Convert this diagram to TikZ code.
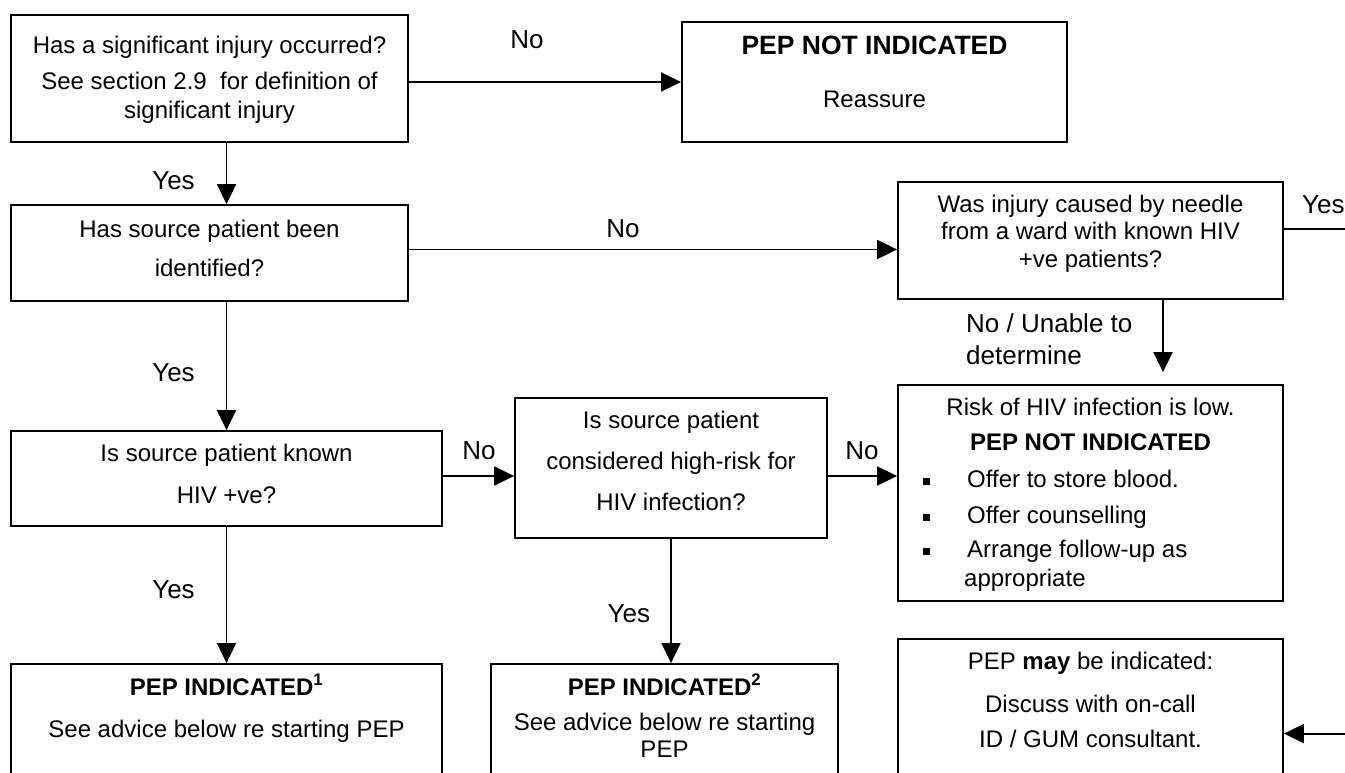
\documentclass[tikz,border=0pt]{standalone}
\usepackage{fontspec}
\setmainfont{Liberation Sans}
\usetikzlibrary{arrows.meta}

\tikzstyle{box}=[draw, line width=1.8pt, inner sep=0pt]
\tikzstyle{txt}=[inner sep=0pt, font=\fontsize{24}{28}\selectfont, text height=17pt, text depth=5pt]
\tikzstyle{lbl}=[inner sep=0pt, font=\fontsize{26}{30}\selectfont, text height=18.5pt, text depth=5.5pt]
\tikzstyle{arr}=[line width=1.8pt, -{Triangle[length=20pt,width=19pt]}]
\tikzstyle{plain}=[line width=1.8pt]

\begin{document}
\begin{tikzpicture}[x=1pt, y=-1pt]
	\useasboundingbox (0,0) rectangle (1345,772);
	\clip (0,0) rectangle (1345,772);

	% Boxes
	\node[box, minimum width=397, minimum height=127] (A) at (209.5,78.5) {};
	\node[box, minimum width=385, minimum height=120] (B) at (874.5,82) {};
	\node[box, minimum width=397, minimum height=96] (C) at (209.5,253) {};
	\node[box, minimum width=385, minimum height=117] (D) at (1090.5,240.5) {};
	\node[box, minimum width=385, minimum height=216] (E) at (1090.5,493) {};
	\node[box, minimum width=431, minimum height=95] (F) at (226.5,478.5) {};
	\node[box, minimum width=312, minimum height=140] (G) at (671,468) {};
	\node[box, minimum width=431, minimum height=136] (H) at (226.5,732) {};
	\node[box, minimum width=347, minimum height=136] (I) at (664.5,732) {};
	\node[box, minimum width=385, minimum height=161] (J) at (1090.5,719.5) {};

	% Box texts
	\node[txt] (A1) at (209.5,47.8) {Has a significant injury occurred?};
	\node[txt] (A2) at (209.5,83.7) {See section 2.9~ for definition of};
	\node[txt] (A3) at (209.5,112.3) {significant injury};

	\node[txt, font=\fontsize{26.5}{30}\selectfont\bfseries] (B1) at (874.5,48) {PEP NOT INDICATED};
	\node[txt] (B2) at (874.5,101) {Reassure};

	\node[txt] (C1) at (209.5,231.4) {Has source patient been};
	\node[txt] (C2) at (209.5,270.8) {identified?};

	\node[txt] (D1) at (1090.5,206.8) {Was injury caused by needle};
	\node[txt] (D2) at (1090.5,233.9) {from a ward with known HIV};
	\node[txt] (D3) at (1090.5,261) {+ve patients?};

	\node[txt] (E1) at (1090.5,409.6) {Risk of HIV infection is low.};
	\node[txt, font=\fontsize{24}{28}\selectfont\bfseries] (E2) at (1090.5,444.6) {PEP NOT INDICATED};
	\node[txt, anchor=west] (E3) at (967,481) {Offer to store blood.};
	\node[txt, anchor=west] (E4) at (967,517) {Offer counselling};
	\node[txt, anchor=west] (E5) at (967,551.5) {Arrange follow-up as};
	\node[txt, anchor=west] (E6) at (964,580) {appropriate};
	\foreach \y in {481,517,551.5} {
		\fill (922.5,\y-3.5) rectangle ++(7,7);
	}

	\node[txt] (F1) at (226.5,455.4) {Is source patient known};
	\node[txt] (F2) at (226.5,497.3) {HIV +ve?};

	\node[txt] (G1) at (671,422.4) {Is source patient};
	\node[txt] (G2) at (671,463.8) {considered high-risk for};
	\node[txt] (G3) at (671,504.7) {HIV infection?};

	\node[txt, font=\fontsize{24}{28}\selectfont\bfseries] (H1) at (226.5,689) {PEP INDICATED\textsuperscript{1}};
	\node[txt] (H2) at (226.5,731) {See advice below re starting PEP};

	\node[txt, font=\fontsize{24}{28}\selectfont\bfseries] (I1) at (664.5,689) {PEP INDICATED\textsuperscript{2}};
	\node[txt] (I2) at (664.5,724) {See advice below re starting};
	\node[txt] (I3) at (664.5,751) {PEP};

	\node[txt] (J1) at (1090.5,663) {PEP \textbf{may} be indicated:};
	\node[txt] (J2) at (1090.5,706.6) {Discuss with on-call};
	\node[txt] (J3) at (1090.5,741) {ID / GUM consultant.};

	% Arrows
	\draw[arr] (A.east |- B.west) -- (B.west);
	\draw[arr] (A.south -| F.north) -- (C.north -| F.north);
	\draw[arr] ([yshift=3.5pt]C.east) -- ([yshift=3.5pt]C.east -| D.west);
	\draw[arr] (C.south -| F.north) -- (F.north);
	\draw[arr] ([yshift=2.5pt]F.east) -- ([yshift=2.5pt]F.east -| G.west);
	\draw[arr] ([yshift=2.5pt]F.east -| G.east) -- ([yshift=2.5pt]F.east -| E.west);
	\draw[arr] (G.south) -- (G.south |- I.north);
	\draw[arr] (F.south) -- (H.north);
	\draw[arr, shorten >=12pt] ([xshift=72.5pt]D.south) -- ([xshift=72.5pt]D.south |- E.north);
	\coordinate (Dout) at (1360,229);
	\draw[plain] (D.east |- Dout) -- (Dout);
	\coordinate (Jin) at (1360,733.6);
	\draw[arr] (Jin) -- (Jin -| J.east);

	% Labels
	\node[lbl] (l1) at (527,42) {No};
	\node[lbl] (l2) at (173.5,183) {Yes};
	\node[lbl] (l3) at (623,231) {No};
	\node[lbl] (l4) at (173.5,375) {Yes};
	\node[lbl] (l5) at (479,453) {No};
	\node[lbl] (l6) at (862,453) {No};
	\node[lbl] (l7) at (173.5,592) {Yes};
	\node[lbl] (l8) at (628.8,615.5) {Yes};
	\node[lbl, anchor=west] (l9) at (1302,207) {Yes};
	\node[lbl, anchor=west] (l10) at (966,326.4) {No / Unable to};
	\node[lbl, anchor=west] (l11) at (966,358) {determine};

\end{tikzpicture}
\end{document}
